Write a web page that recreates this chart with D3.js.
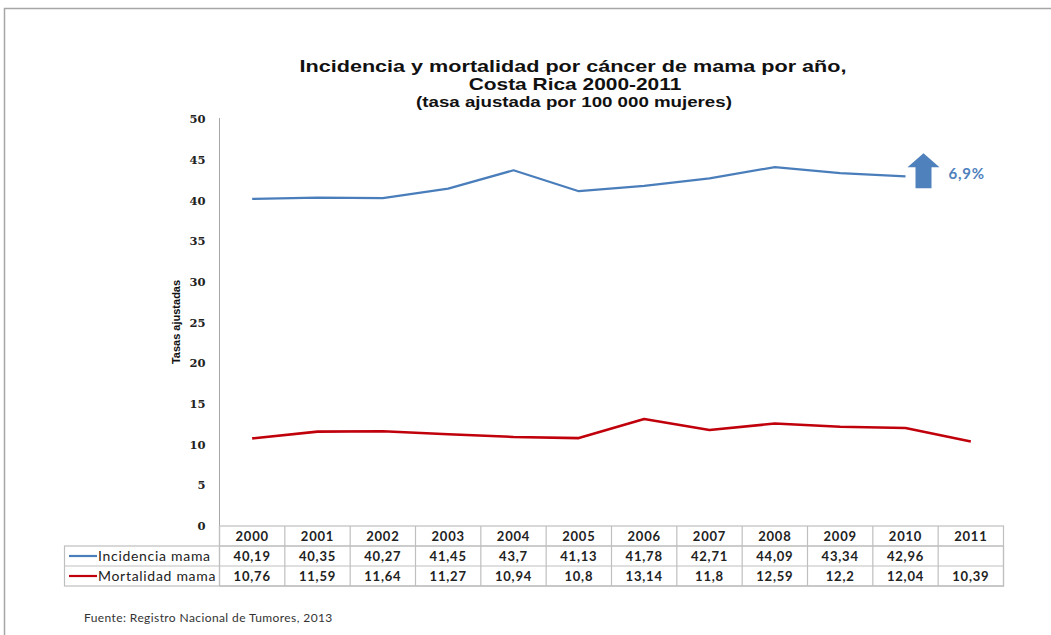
<!DOCTYPE html>
<html>
<head>
<meta charset="utf-8">
<script src="https://cdn.jsdelivr.net/npm/d3@7"></script>
<style>
  body { margin: 0; background: #fff; }
  svg { display: block; }
</style>
</head>
<body>
<div id="chart"></div>
<script>
// data
var years = ["2000","2001","2002","2003","2004","2005","2006","2007","2008","2009","2010","2011"]
var incidencia = [40.19, 40.35, 40.27, 41.45, 43.7, 41.13, 41.78, 42.71, 44.09, 43.34, 42.96, null]
var mortalidad = [10.76, 11.59, 11.64, 11.27, 10.94, 10.8, 13.14, 11.8, 12.59, 12.2, 12.04, 10.39]
var yTicks = [0, 5, 10, 15, 20, 25, 30, 35, 40, 45, 50]
var seriesNames = ["Incidencia mama", "Mortalidad mama"]
var seriesColors = ["#4a7ebb", "#c0000b"]
var aumento = "6,9%"

var W = 1051, H = 635
var svg = d3.select("#chart").append("svg").attr("width", W).attr("height", H)

// slide frame
svg.append("path")
  .attr("d", "M4.5," + H + "V8.5H" + W)
  .attr("fill", "none").attr("stroke", "#a6a6a6").attr("stroke-width", 1.5)

var pLeft = 219.5, pRight = 1003.5, pTop = 119, pBottom = 526
var x = d3.scaleBand().domain(years).range([pLeft, pRight])
var y = d3.scaleLinear().domain([0, 50]).range([pBottom, pTop])
var cx = function(yr) { return x(yr) + x.bandwidth() / 2 }

// title (the original is stretched sideways)
var title = svg.append("g").attr("text-anchor", "middle")
  .attr("font-family", "'Liberation Sans', Arial, sans-serif").attr("font-weight", "bold")
  .attr("fill", "#111")
title.append("text").attr("transform", "translate(573,72) scale(1.27,1)").attr("font-size", 17)
  .text("Incidencia y mortalidad por cáncer de mama por año,")
title.append("text").attr("transform", "translate(575,90) scale(1.23,1)").attr("font-size", 17)
  .text("Costa Rica 2000-2011")
title.append("text").attr("transform", "translate(574,107) scale(1.29,1)").attr("font-size", 14.5)
  .text("(tasa ajustada por 100 000 mujeres)")

// y axis
var yAxis = d3.axisLeft(y).tickValues(yTicks).tickSize(0).tickPadding(14)
var gy = svg.append("g").attr("transform", "translate(" + pLeft + ",0)").call(yAxis)
gy.select(".domain").attr("stroke", "#a6a6a6").attr("d", "M0," + (pTop - 1) + "V" + pBottom)
gy.selectAll("text")
  .attr("font-family", "'DejaVu Serif', Cambria, serif").attr("font-weight", "bold")
  .attr("font-size", 11.5).attr("fill", "#222")

svg.append("text")
  .attr("transform", "translate(180,322) rotate(-90)")
  .attr("text-anchor", "middle")
  .attr("font-family", "'Liberation Sans Narrow', 'Arial Narrow', sans-serif")
  .attr("font-weight", "bold").attr("font-size", 11).attr("fill", "#111")
  .text("Tasas ajustadas")

// lines
var line = d3.line()
  .defined(function(d) { return d.v != null })
  .x(function(d) { return cx(d.yr) })
  .y(function(d) { return y(d.v) })

;[incidencia, mortalidad].forEach(function(vals, i) {
  var pts = years.map(function(yr, j) { return { yr: yr, v: vals[j] } })
  svg.append("path").datum(pts)
    .attr("fill", "none")
    .attr("stroke", seriesColors[i])
    .attr("stroke-width", i == 0 ? 2.2 : 2.6)
    .attr("stroke-linejoin", "round")
    .attr("d", line)
})

// data table
var rowH = 20
var tblLeft = 64.5
var grid = svg.append("g").attr("stroke", "#bfbfbf").attr("fill", "none").attr("stroke-width", 1.2)
grid.append("rect").attr("x", pLeft).attr("y", pBottom).attr("width", pRight - pLeft).attr("height", rowH * 3)
grid.append("rect").attr("x", tblLeft).attr("y", pBottom + rowH).attr("width", pRight - tblLeft).attr("height", rowH * 2)
grid.append("line").attr("x1", tblLeft).attr("x2", pRight).attr("y1", pBottom + rowH * 2).attr("y2", pBottom + rowH * 2)
grid.append("line").attr("x1", pLeft).attr("x2", pRight).attr("y1", pBottom + rowH).attr("y2", pBottom + rowH)
years.forEach(function(yr) {
  grid.append("line").attr("x1", x(yr)).attr("x2", x(yr)).attr("y1", pBottom).attr("y2", pBottom + rowH * 3)
})

var cellFont = "Lato, 'Open Sans', sans-serif"
var fmt = function(v) { return v == null ? "" : String(v).replace(".", ",") }
var tbl = svg.append("g").attr("font-family", cellFont).attr("font-size", 13)
  .attr("font-weight", "bold").attr("fill", "#222").attr("text-anchor", "middle")
tbl.selectAll(".yr").data(years).enter().append("text")
  .attr("x", function(d) { return cx(d) }).attr("y", pBottom + rowH / 2 + 5)
  .attr("letter-spacing", 0.8)
  .text(function(d) { return d })
;[incidencia, mortalidad].forEach(function(vals, i) {
  tbl.selectAll(".v" + i).data(vals).enter().append("text")
    .attr("x", function(d, j) { return cx(years[j]) })
    .attr("y", pBottom + rowH * (i + 1) + rowH / 2 + 5)
    .attr("letter-spacing", 0.8)
    .text(fmt)
  svg.append("line")
    .attr("x1", 69).attr("x2", 97)
    .attr("y1", pBottom + rowH * (i + 1) + rowH / 2).attr("y2", pBottom + rowH * (i + 1) + rowH / 2)
    .attr("stroke", seriesColors[i]).attr("stroke-width", 2.2)
  svg.append("text")
    .attr("x", 98).attr("y", pBottom + rowH * (i + 1) + rowH / 2 + 5)
    .attr("font-family", cellFont).attr("font-size", 14).attr("fill", "#222")
    .attr("letter-spacing", 0.7)
    .text(seriesNames[i])
})

// arrow annotation
var ax = cx("2010") + 18, ay = y(45.8)
svg.append("path")
  .attr("d", "M" + ax + "," + ay + "l16,14h-8v21h-16v-21h-8z")
  .attr("fill", "#4f81bd")
svg.append("text")
  .attr("x", ax + 25).attr("y", ay + 26)
  .attr("font-family", cellFont).attr("font-weight", "bold").attr("font-size", 15)
  .attr("fill", "#4f81bd").attr("letter-spacing", 0.8)
  .text(aumento)

// source
svg.append("text")
  .attr("x", 84).attr("y", 622)
  .attr("font-family", cellFont).attr("font-size", 12).attr("fill", "#333")
  .attr("letter-spacing", 0.4)
  .text("Fuente: Registro Nacional de Tumores, 2013")
</script>
</body>
</html>
